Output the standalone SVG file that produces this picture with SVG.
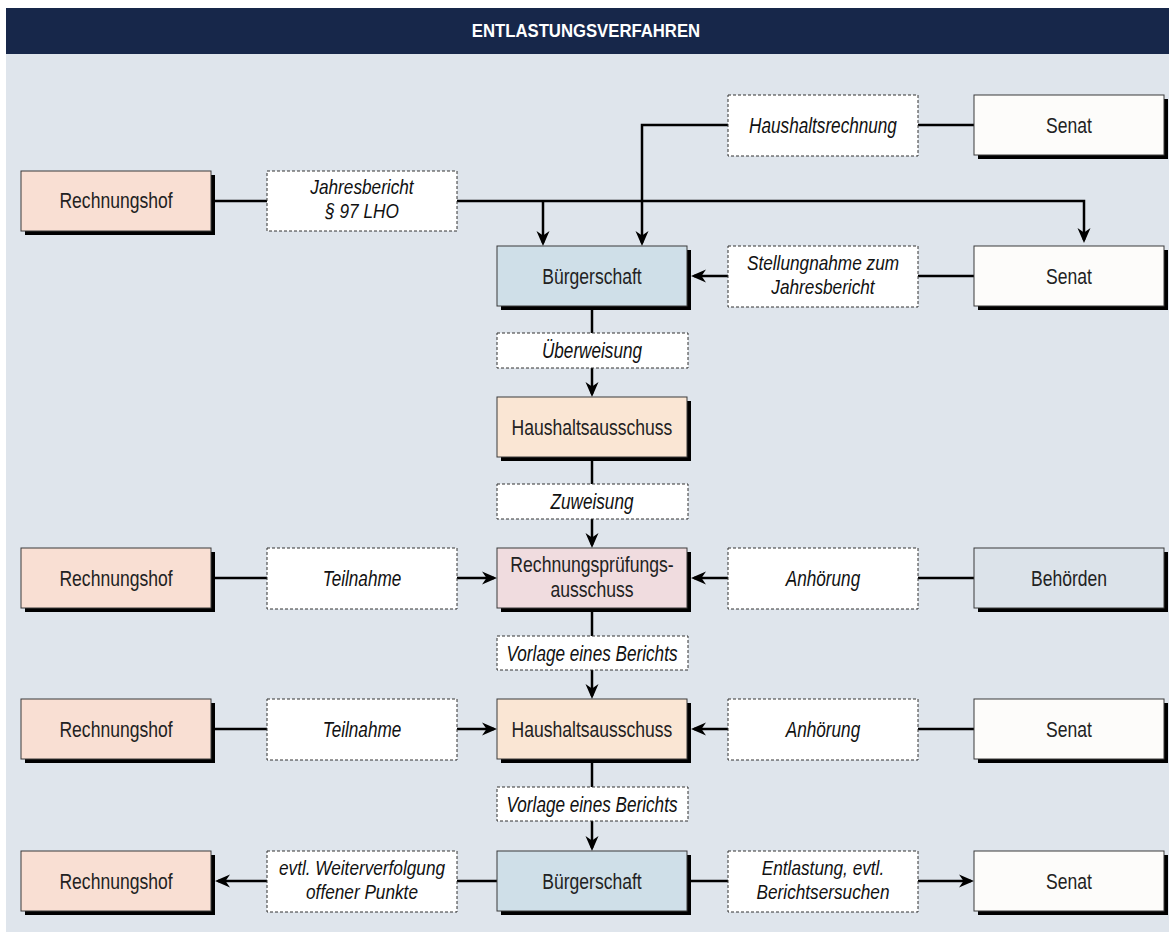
<svg xmlns="http://www.w3.org/2000/svg" width="1169" height="941" viewBox="0 0 1169 941">
<style>
.sh{fill:#000}
.nd{stroke:#3a3a3a;stroke-width:1}
.rh{fill:#f9dfd3}
.bs{fill:#cfdfe8}
.ha{fill:#fae6d4}
.rp{fill:#f0dcdf}
.se{fill:#fdfcfa}
.be{fill:#dce3ea}
.lb{fill:#fff;stroke:#333;stroke-width:1;stroke-dasharray:3 2}
.nt{font-family:"Liberation Sans",Arial,sans-serif;font-size:22.5px;fill:#222;text-anchor:middle}
.n2{font-size:22px}
.lt{font-family:"Liberation Sans",Arial,sans-serif;font-size:22px;font-style:italic;fill:#111;text-anchor:middle}
.l2{font-size:21px}
.tt{font-family:"Liberation Sans",Arial,sans-serif;font-size:19px;font-weight:bold;fill:#fff;text-anchor:middle}
.cn{fill:none;stroke:#000;stroke-width:2.5}
.ar{marker-end:url(#ah)}
</style>
<defs>
<marker id="ah" markerUnits="userSpaceOnUse" markerWidth="18" markerHeight="16" refX="12" refY="8" orient="auto">
<path d="M0,1.5 L15,8 L0,14.5 L4.5,8 z" fill="#000"/>
</marker>
</defs>
<rect x="6" y="54" width="1163" height="878" fill="#dfe5ec"/>
<rect x="6" y="8" width="1163" height="46" fill="#17274a"/>
<text class="tt" transform="translate(586,37) scale(0.88,1)">ENTLASTUNGSVERFAHREN</text>

<g id="connectors">
<path class="cn" d="M211,201 H267"/>
<path class="cn ar" d="M457,201 H1084 V240"/>
<path class="cn ar" d="M543,201 V243"/>
<path class="cn" d="M974,125 H918"/>
<path class="cn ar" d="M728,125 H642 V243"/>
<path class="cn" d="M974,276 H918"/>
<path class="cn ar" d="M728,276 H694"/>
<path class="cn" d="M592,306 V333"/>
<path class="cn ar" d="M592,368 V394"/>
<path class="cn" d="M592,457 V484"/>
<path class="cn ar" d="M592,519 V545"/>
<path class="cn" d="M211,578 H267"/>
<path class="cn ar" d="M457,578 H494"/>
<path class="cn" d="M974,578 H918"/>
<path class="cn ar" d="M728,578 H694"/>
<path class="cn" d="M592,608 V636"/>
<path class="cn ar" d="M592,670 V696"/>
<path class="cn" d="M211,729 H267"/>
<path class="cn ar" d="M457,729 H494"/>
<path class="cn" d="M974,729 H918"/>
<path class="cn ar" d="M728,729 H694"/>
<path class="cn" d="M592,759 V787"/>
<path class="cn ar" d="M592,821 V848"/>
<path class="cn" d="M497,881 H457"/>
<path class="cn ar" d="M267,881 H218"/>
<path class="cn" d="M687,881 H728"/>
<path class="cn ar" d="M918,881 H971"/>
</g>

<g id="n-senat1"><rect class="sh" x="978" y="99" width="190" height="60"/><rect class="nd se" x="974" y="95" width="190" height="60"/><text class="nt" transform="translate(1069,133) scale(0.78,1)">Senat</text></g>
<g id="l-haushaltsrechnung"><rect class="lb" x="728" y="95" width="190" height="61"/><text class="lt" transform="translate(823,133) scale(0.78,1)">Haushaltsrechnung</text></g>
<g id="n-rechnungshof1"><rect class="sh" x="25" y="175" width="190" height="60"/><rect class="nd rh" x="21" y="171" width="190" height="60"/><text class="nt" transform="translate(116,208) scale(0.78,1)">Rechnungshof</text></g>
<g id="l-jahresbericht"><rect class="lb" x="267" y="171" width="190" height="60"/><text class="lt l2" transform="translate(362,194) scale(0.82,1)">Jahresbericht</text><text class="lt l2" transform="translate(362,217.5) scale(0.82,1)">§ 97 LHO</text></g>
<g id="n-buergerschaft1"><rect class="sh" x="501" y="250" width="190" height="60"/><rect class="nd bs" x="497" y="246" width="190" height="60"/><text class="nt" transform="translate(592,284) scale(0.78,1)">Bürgerschaft</text></g>
<g id="l-stellungnahme"><rect class="lb" x="728" y="246" width="190" height="61"/><text class="lt l2" transform="translate(823,270) scale(0.82,1)">Stellungnahme zum</text><text class="lt l2" transform="translate(823,293.5) scale(0.82,1)">Jahresbericht</text></g>
<g id="n-senat2"><rect class="sh" x="978" y="250" width="190" height="60"/><rect class="nd se" x="974" y="246" width="190" height="60"/><text class="nt" transform="translate(1069,284) scale(0.78,1)">Senat</text></g>
<g id="l-ueberweisung"><rect class="lb" x="497" y="333" width="191" height="35"/><text class="lt" transform="translate(592,358) scale(0.78,1)">Überweisung</text></g>
<g id="n-haushalt1"><rect class="sh" x="501" y="401" width="190" height="60"/><rect class="nd ha" x="497" y="397" width="190" height="60"/><text class="nt" transform="translate(592,435) scale(0.78,1)">Haushaltsausschuss</text></g>
<g id="l-zuweisung"><rect class="lb" x="497" y="484" width="191" height="35"/><text class="lt" transform="translate(592,509) scale(0.78,1)">Zuweisung</text></g>
<g id="n-rechnungshof2"><rect class="sh" x="25" y="552" width="190" height="60"/><rect class="nd rh" x="21" y="548" width="190" height="60"/><text class="nt" transform="translate(116,586) scale(0.78,1)">Rechnungshof</text></g>
<g id="l-teilnahme1"><rect class="lb" x="267" y="548" width="190" height="61"/><text class="lt" transform="translate(362,586) scale(0.78,1)">Teilnahme</text></g>
<g id="n-rpa"><rect class="sh" x="501" y="552" width="190" height="60"/><rect class="nd rp" x="497" y="548" width="190" height="60"/><text class="nt n2" transform="translate(592,572) scale(0.8,1)">Rechnungsprüfungs-</text><text class="nt n2" transform="translate(592,597) scale(0.8,1)">ausschuss</text></g>
<g id="l-anhoerung1"><rect class="lb" x="728" y="548" width="190" height="61"/><text class="lt" transform="translate(823,586) scale(0.78,1)">Anhörung</text></g>
<g id="n-behoerden"><rect class="sh" x="978" y="552" width="190" height="60"/><rect class="nd be" x="974" y="548" width="190" height="60"/><text class="nt" transform="translate(1069,586) scale(0.78,1)">Behörden</text></g>
<g id="l-vorlage1"><rect class="lb" x="497" y="636" width="191" height="34"/><text class="lt" transform="translate(592,661) scale(0.78,1)">Vorlage eines Berichts</text></g>
<g id="n-rechnungshof3"><rect class="sh" x="25" y="703" width="190" height="60"/><rect class="nd rh" x="21" y="699" width="190" height="60"/><text class="nt" transform="translate(116,737) scale(0.78,1)">Rechnungshof</text></g>
<g id="l-teilnahme2"><rect class="lb" x="267" y="699" width="190" height="61"/><text class="lt" transform="translate(362,737) scale(0.78,1)">Teilnahme</text></g>
<g id="n-haushalt2"><rect class="sh" x="501" y="703" width="190" height="60"/><rect class="nd ha" x="497" y="699" width="190" height="60"/><text class="nt" transform="translate(592,737) scale(0.78,1)">Haushaltsausschuss</text></g>
<g id="l-anhoerung2"><rect class="lb" x="728" y="699" width="190" height="61"/><text class="lt" transform="translate(823,737) scale(0.78,1)">Anhörung</text></g>
<g id="n-senat3"><rect class="sh" x="978" y="703" width="190" height="60"/><rect class="nd se" x="974" y="699" width="190" height="60"/><text class="nt" transform="translate(1069,737) scale(0.78,1)">Senat</text></g>
<g id="l-vorlage2"><rect class="lb" x="497" y="787" width="191" height="34"/><text class="lt" transform="translate(592,812) scale(0.78,1)">Vorlage eines Berichts</text></g>
<g id="n-rechnungshof4"><rect class="sh" x="25" y="855" width="190" height="60"/><rect class="nd rh" x="21" y="851" width="190" height="60"/><text class="nt" transform="translate(116,889) scale(0.78,1)">Rechnungshof</text></g>
<g id="l-weiterverfolgung"><rect class="lb" x="267" y="851" width="190" height="61"/><text class="lt l2" transform="translate(362,875) scale(0.82,1)">evtl. Weiterverfolgung</text><text class="lt l2" transform="translate(362,898.5) scale(0.82,1)">offener Punkte</text></g>
<g id="n-buergerschaft2"><rect class="sh" x="501" y="855" width="190" height="60"/><rect class="nd bs" x="497" y="851" width="190" height="60"/><text class="nt" transform="translate(592,889) scale(0.78,1)">Bürgerschaft</text></g>
<g id="l-entlastung"><rect class="lb" x="728" y="851" width="190" height="61"/><text class="lt l2" transform="translate(823,875) scale(0.82,1)">Entlastung, evtl.</text><text class="lt l2" transform="translate(823,898.5) scale(0.82,1)">Berichtsersuchen</text></g>
<g id="n-senat4"><rect class="sh" x="978" y="855" width="190" height="60"/><rect class="nd se" x="974" y="851" width="190" height="60"/><text class="nt" transform="translate(1069,889) scale(0.78,1)">Senat</text></g>
</svg>
